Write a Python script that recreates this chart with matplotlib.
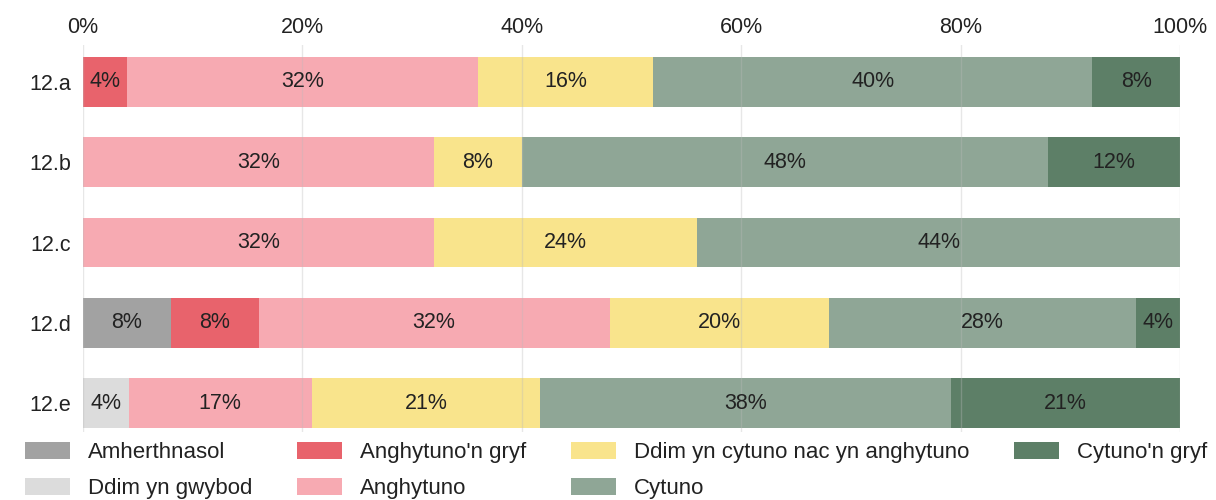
import matplotlib
matplotlib.use("Agg")
import matplotlib.pyplot as plt
import numpy as np

plt.rcParams['font.family'] = ['Liberation Sans', 'DejaVu Sans']

categories = ["12.a", "12.b", "12.c", "12.d", "12.e"]
series_names = ["Ddim yn gwybod", "Amherthnasol", "Anghytuno'n gryf", "Anghytuno",
                "Ddim yn cytuno nac yn anghytuno", "Cytuno", "Cytuno'n gryf"]
ddim_gwybod = [0, 0, 0, 0, 4.17]
amherthnasol = [0, 0, 0, 8, 0]
anghytuno_gryf = [4, 0, 0, 8, 0]
anghytuno = [32, 32, 32, 32, 16.67]
ddim_cytuno = [16, 8, 24, 20, 20.83]
cytuno = [40, 48, 44, 28, 37.5]
cytuno_gryf = [8, 12, 0, 4, 20.83]
colors = ["#dcdcdc", "#a2a2a2", "#e8636c", "#f7aab2", "#f9e48c", "#8fa696", "#5d7f67"]
xticks = [0, 20, 40, 60, 80, 100]

data = [ddim_gwybod, amherthnasol, anghytuno_gryf, anghytuno, ddim_cytuno, cytuno, cytuno_gryf]

FS = 15.5
LFS = 16
W, H = 1216, 500
fig = plt.figure(figsize=(W / 100, H / 100), dpi=100)
ax = fig.add_axes([83 / W, 1 - 432 / H, (1180 - 83) / W, (432 - 45) / H])

y = np.arange(len(categories))
left = np.zeros(len(categories))
handles = {}
for name, vals, col in zip(series_names, data, colors):
    vals = np.array(vals, dtype=float)
    bars = ax.barh(y, vals, left=left, height=0.62, color=col, zorder=1)
    handles[name] = bars
    for yi, v, l in zip(y, vals, left):
        if v > 0:
            ax.text(l + v / 2, yi, "%.0f%%" % v, ha="center", va="center",
                    fontsize=FS, color="#222222", zorder=3)
    left += vals

ax.set_xlim(0, 100)
ax.set_ylim(4.361, -0.461)
ax.set_yticks(y)
ax.set_yticklabels(categories, fontsize=FS, color="#222222")
ax.set_xticks(xticks)
ax.set_xticklabels(["%d%%" % t for t in xticks], fontsize=FS, color="#222222")
ax.xaxis.tick_top()
ax.tick_params(axis="both", length=0)
ax.tick_params(axis="x", pad=5)
ax.tick_params(axis="y", pad=8.6)
for s in ax.spines.values():
    s.set_visible(False)
ax.grid(axis="x", color="#bbbbbb", linewidth=1, alpha=0.35, zorder=2)
ax.set_axisbelow(False)

legend_order = ["Amherthnasol", "Ddim yn gwybod", "Anghytuno'n gryf", "Anghytuno",
                "Ddim yn cytuno nac yn anghytuno", "Cytuno", "Cytuno'n gryf"]
fig.legend([handles[n] for n in legend_order], legend_order, ncol=4,
           loc="upper left", bbox_to_anchor=(25 / W, 1 - 442 / H),
           frameon=False, fontsize=LFS, handlelength=2.03, handleheight=0.81,
           handletextpad=0.81, labelspacing=0.64, columnspacing=2.0,
           borderpad=0, borderaxespad=0)
for t in fig.legends[0].get_texts():
    t.set_color("#222222")

fig.savefig("out.png", dpi=100)
